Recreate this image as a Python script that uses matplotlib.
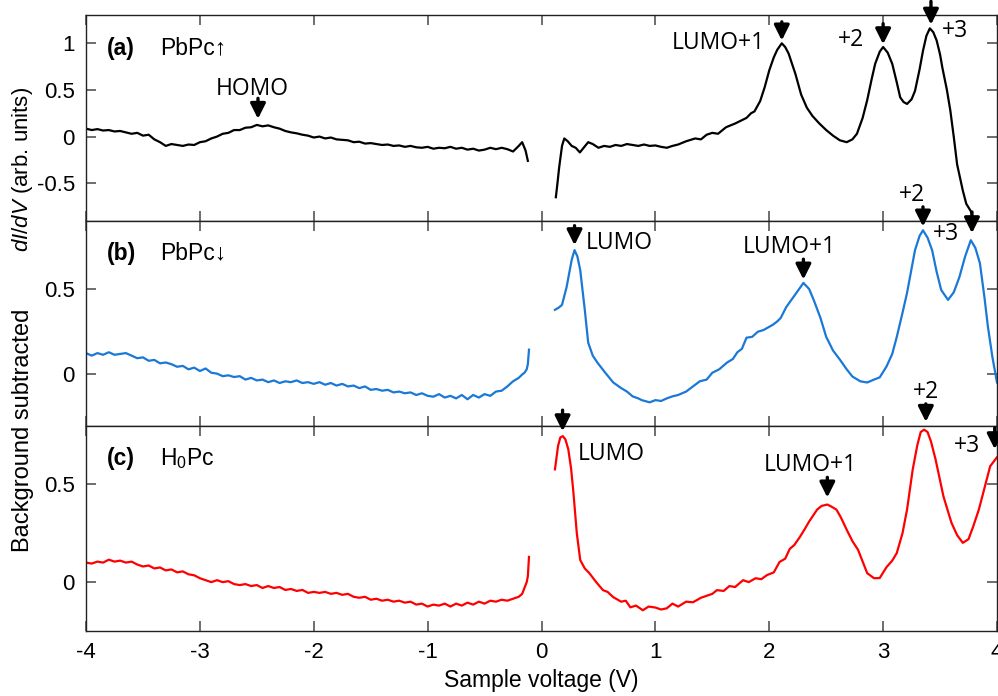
import matplotlib.pyplot as plt
import numpy as np

plt.rcParams["font.family"] = ["Liberation Sans", "DejaVu Sans"]
plt.rcParams["mathtext.fontset"] = "custom"
plt.rcParams["mathtext.it"] = "Liberation Sans:italic"
plt.rcParams["mathtext.rm"] = "Liberation Sans"

# negative bias branches are sampled every 50 mV from -4.0 V to -0.2 V, then the last few points near 0
a_neg_y = [0.085, 0.07, 0.08, 0.065, 0.07, 0.055, 0.06, 0.045, 0.03, 0.04, 0.01, 0.02, -0.03,
           -0.06, -0.1, -0.08, -0.09, -0.1, -0.085, -0.09, -0.06, -0.05, -0.02, 0.0, 0.03, 0.04,
           0.07, 0.07, 0.095, 0.1, 0.125, 0.11, 0.12, 0.1, 0.085, 0.06, 0.045, 0.035, 0.02, 0.01,
           -0.01, 0.0, -0.02, -0.01, -0.03, -0.035, -0.04, -0.06, -0.055, -0.075, -0.07, -0.08,
           -0.09, -0.085, -0.1, -0.095, -0.11, -0.1, -0.115, -0.12, -0.11, -0.13, -0.12, -0.125,
           -0.11, -0.13, -0.12, -0.14, -0.13, -0.15, -0.14, -0.12, -0.135, -0.12, -0.135, -0.16, -0.1]
a_tail_v = [-0.17, -0.14, -0.12]
a_tail_y = [-0.06, -0.15, -0.26]
a_pos_v = [0.126, 0.14, 0.155, 0.18, 0.2, 0.23, 0.265, 0.3, 0.337, 0.37, 0.41, 0.45, 0.5, 0.55,
           0.6, 0.65, 0.7, 0.75, 0.8, 0.85, 0.9, 0.95, 1.0, 1.05, 1.1, 1.15, 1.2, 1.27, 1.35, 1.4,
           1.45, 1.5, 1.55, 1.6, 1.62, 1.66, 1.7, 1.75, 1.8, 1.84, 1.87, 1.92,
           1.96, 2.0, 2.04, 2.07, 2.11, 2.14, 2.17, 2.2, 2.23, 2.28, 2.33, 2.38, 2.44, 2.5, 2.56,
           2.62, 2.68, 2.73, 2.77, 2.82, 2.86, 2.9, 2.93, 2.97, 3.0, 3.04, 3.08, 3.12, 3.15, 3.18,
           3.21, 3.25, 3.28, 3.32, 3.35, 3.38, 3.41, 3.44, 3.47, 3.5, 3.52, 3.56, 3.59, 3.62, 3.65,
           3.7, 3.73, 3.77, 3.82, 3.9]
a_pos_y = [-0.65, -0.5, -0.33, -0.1, -0.02, -0.05, -0.1, -0.12, -0.17, -0.12, -0.06, -0.08, -0.12, -0.1,
           -0.11, -0.09, -0.1, -0.08, -0.09, -0.1, -0.085, -0.1, -0.095, -0.11, -0.12, -0.1, -0.085,
           -0.05, -0.02, -0.03, 0.02, 0.04, 0.03, 0.08, 0.1, 0.12, 0.14, 0.17, 0.2, 0.25, 0.27, 0.38,
           0.53, 0.71, 0.85, 0.93, 1.0, 0.96, 0.89, 0.78, 0.67, 0.45, 0.31, 0.22, 0.14, 0.07, 0.01,
           -0.04, -0.06, -0.03, 0.03, 0.2, 0.39, 0.62, 0.78, 0.91, 0.96, 0.9, 0.78, 0.58, 0.42, 0.37,
           0.35, 0.4, 0.49, 0.72, 0.92, 1.08, 1.16, 1.12, 1.03, 0.88, 0.74, 0.5, 0.28, 0.0, -0.3,
           -0.58, -0.72, -0.8, -1.0, -1.2]

b_neg_y = [0.125, 0.11, 0.125, 0.115, 0.13, 0.115, 0.12, 0.125, 0.11, 0.095, 0.1, 0.08, 0.085,
           0.065, 0.07, 0.06, 0.045, 0.05, 0.03, 0.04, 0.02, 0.035, 0.01, 0.005, -0.01, -0.005,
           -0.015, -0.01, -0.03, -0.02, -0.035, -0.03, -0.045, -0.035, -0.05, -0.04, -0.045,
           -0.035, -0.05, -0.045, -0.055, -0.045, -0.06, -0.05, -0.065, -0.055, -0.07, -0.065,
           -0.08, -0.07, -0.09, -0.085, -0.095, -0.09, -0.105, -0.1, -0.11, -0.105, -0.12, -0.11,
           -0.125, -0.13, -0.115, -0.135, -0.125, -0.14, -0.12, -0.145, -0.12, -0.135, -0.115,
           -0.125, -0.1, -0.095, -0.07, -0.04, -0.02]
b_tail_v = [-0.17, -0.15, -0.13, -0.12, -0.11]
b_tail_y = [0.0, 0.01, 0.03, 0.06, 0.145]
b_pos_v = [0.118, 0.15, 0.18, 0.22, 0.265, 0.29, 0.315, 0.34, 0.38, 0.41, 0.45, 0.49, 0.56, 0.63,
           0.7, 0.75, 0.8, 0.85, 0.88, 0.95, 1.0, 1.05, 1.1, 1.15, 1.2, 1.27, 1.33, 1.39, 1.45,
           1.5, 1.56, 1.63, 1.68, 1.72, 1.76, 1.8, 1.85, 1.9, 1.95, 2.03, 2.07, 2.1,
           2.15, 2.22, 2.3, 2.35, 2.39, 2.45, 2.5, 2.56, 2.62, 2.68, 2.73, 2.8, 2.86, 2.92, 2.97,
           3.03, 3.08, 3.12, 3.17, 3.21, 3.25, 3.28, 3.32, 3.35, 3.39, 3.43, 3.47, 3.51, 3.57,
           3.62, 3.67, 3.72, 3.77, 3.81, 3.85, 3.89, 3.92, 3.96, 4.0]
b_pos_y = [0.378, 0.39, 0.407, 0.51, 0.67, 0.727, 0.69, 0.61, 0.378, 0.186, 0.11, 0.07, 0.01, -0.047,
           -0.08, -0.1, -0.128, -0.14, -0.15, -0.163, -0.15, -0.155, -0.14, -0.128, -0.12, -0.1,
           -0.07, -0.04, -0.03, 0.01, 0.03, 0.07, 0.09, 0.13, 0.15, 0.215, 0.22, 0.25, 0.26, 0.29,
           0.31, 0.33, 0.395, 0.46, 0.535, 0.5, 0.436, 0.33, 0.22, 0.14, 0.087, 0.03, -0.012, -0.04,
           -0.047, -0.03, -0.017, 0.047, 0.12, 0.22, 0.36, 0.477, 0.62, 0.727, 0.81, 0.843, 0.8,
           0.727, 0.6, 0.494, 0.436, 0.48, 0.57, 0.69, 0.785, 0.74, 0.65, 0.45, 0.28, 0.1, -0.047]

c_neg_y = [0.1, 0.095, 0.105, 0.1, 0.115, 0.105, 0.11, 0.1, 0.105, 0.09, 0.08, 0.085, 0.07,
           0.075, 0.06, 0.065, 0.05, 0.055, 0.04, 0.035, 0.02, 0.01, 0.0, 0.01, 0.0, 0.005, -0.01,
           -0.015, -0.01, -0.02, -0.015, -0.03, -0.02, -0.03, -0.025, -0.04, -0.035, -0.045,
           -0.04, -0.055, -0.05, -0.055, -0.05, -0.06, -0.055, -0.065, -0.06, -0.075, -0.08,
           -0.075, -0.09, -0.085, -0.095, -0.09, -0.1, -0.095, -0.105, -0.1, -0.115, -0.11,
           -0.125, -0.115, -0.12, -0.11, -0.125, -0.11, -0.12, -0.105, -0.115, -0.1, -0.11,
           -0.095, -0.1, -0.09, -0.095, -0.085, -0.075]
c_tail_v = [-0.17, -0.15, -0.13, -0.12, -0.11]
c_tail_y = [-0.06, -0.03, 0.0, 0.03, 0.129]
c_pos_v = [0.118, 0.145, 0.165, 0.187, 0.21, 0.235, 0.26, 0.28, 0.31, 0.34, 0.38, 0.42, 0.48, 0.54,
           0.58, 0.63, 0.7, 0.74, 0.78, 0.83, 0.89, 0.94, 1.0, 1.05, 1.1, 1.15, 1.2, 1.27, 1.33,
           1.4, 1.45, 1.5, 1.54, 1.6, 1.65, 1.7, 1.77, 1.82, 1.88, 1.93, 1.98, 2.04, 2.09,
           2.14, 2.18, 2.22, 2.27, 2.31, 2.35, 2.42, 2.46, 2.51, 2.55, 2.59, 2.63, 2.68, 2.73,
           2.78, 2.86, 2.92, 2.97, 3.03, 3.08, 3.12, 3.17, 3.21, 3.26, 3.3, 3.33, 3.36, 3.39,
           3.42, 3.46, 3.53, 3.6, 3.65, 3.7, 3.75, 3.79, 3.84, 3.88, 3.94, 4.0]
c_pos_y = [0.577, 0.696, 0.74, 0.747, 0.73, 0.68, 0.58, 0.459, 0.25, 0.113, 0.07, 0.046, 0.0, -0.041,
           -0.05, -0.077, -0.1, -0.095, -0.129, -0.12, -0.144, -0.125, -0.13, -0.14, -0.134, -0.11,
           -0.125, -0.1, -0.103, -0.08, -0.07, -0.06, -0.041, -0.045, -0.02, -0.025, 0.01, 0.0, 0.02,
           0.015, 0.036, 0.05, 0.103, 0.12, 0.17, 0.19, 0.232, 0.27, 0.31, 0.371, 0.39, 0.397, 0.385,
           0.371, 0.33, 0.268, 0.21, 0.165, 0.046, 0.02, 0.021, 0.077, 0.11, 0.149, 0.25, 0.371,
           0.577, 0.7, 0.768, 0.78, 0.768, 0.72, 0.629, 0.438, 0.304, 0.24, 0.201, 0.22, 0.283,
           0.37, 0.459, 0.593, 0.639]

# peak markers: (label, label x, label y, label alignment, arrow x, arrow tail y, arrow tip y)
a_marks = [("HOMO", -2.54, 0.51, "center", -2.49, 0.41, 0.19),
           ("LUMO+1", 1.96, 1.0, "right", 2.11, 1.23, 1.03),
           ("+2", 2.72, 1.03, "center", 3.0, 1.21, 0.99),
           ("+3", 3.63, 1.135, "center", 3.42, 1.45, 1.2)]
b_marks = [("LUMO", 0.39, 0.767, "left", 0.29, 0.87, 0.756),
           ("LUMO+1", 2.18, 0.744, "center", 2.30, 0.674, 0.555),
           ("+2", 3.25, 1.047, "center", 3.35, 0.98, 0.865),
           ("+3", 3.55, 0.82, "center", 3.78, 0.95, 0.826)]
c_marks = [("LUMO", 0.32, 0.655, "left", 0.185, 0.88, 0.772),
           ("LUMO+1", 2.36, 0.598, "center", 2.51, 0.536, 0.433),
           ("+2", 3.38, 0.974, "center", 3.375, 0.912, 0.82),
           ("+3", 3.74, 0.696, "center", 3.98, 0.79, 0.68)]

panels = [
    ("(a)", "PbPc\u2191", a_neg_y, a_tail_v, a_tail_y, a_pos_v, a_pos_y, "black",
     (-0.9, 1.3), [-0.5, 0, 0.5, 1], a_marks),
    ("(b)", "PbPc\u2193", b_neg_y, b_tail_v, b_tail_y, b_pos_v, b_pos_y, "#1a78d6",
     (-0.3, 0.9), [0, 0.5], b_marks),
    ("(c)", "H$_\\mathregular{0}$Pc", c_neg_y, c_tail_v, c_tail_y, c_pos_v, c_pos_y, "#ff0000",
     (-0.25, 0.8), [0, 0.5], c_marks),
]

fig, axes = plt.subplots(3, 1, figsize=(9.98, 6.96), dpi=100, sharex=True)
fig.subplots_adjust(left=0.0862, right=0.999, top=0.978, bottom=0.0934, hspace=0)

for ax, (tag, name, yn, tv, ty, xp, yp, col, ylim, yt, marks) in zip(axes, panels):
    xn = np.linspace(-4.0, -0.2, len(yn))
    ax.plot(np.concatenate([xn, tv]), np.concatenate([yn, ty]), color=col, lw=1.6)
    ax.plot(xp, yp, color=col, lw=1.6)
    ax.set_xlim(-4, 4)
    ax.set_ylim(*ylim)
    ax.set_yticks(yt)
    ax.set_yticklabels([f"{t:g}" for t in yt])
    ax.tick_params(direction="in", length=7, width=1.2, color="#555555", labelsize=16,
                   top=True, right=True, pad=8)
    for s in ax.spines.values():
        s.set_color("#222222")
        s.set_linewidth(1.0)
    ax.text(0.023, 0.84, tag, transform=ax.transAxes, fontsize=16.5, fontweight="bold", va="center")
    ax.text(0.081, 0.84, name, transform=ax.transAxes, fontsize=16.5, va="center")
    for lab, lx, ly, ha, ax_x, tail, tip in marks:
        ax.text(lx, ly, lab, ha=ha, va="center", fontsize=16.5, family=["Open Sans", "DejaVu Sans"],
                clip_on=False)
        ax.annotate("", xy=(ax_x, tip), xytext=(ax_x, tail), annotation_clip=False,
                    arrowprops=dict(arrowstyle="-|>,head_length=0.7,head_width=0.35",
                                    mutation_scale=13, lw=2.4, color="black",
                                    shrinkA=0, shrinkB=0), zorder=5)

axes[-1].set_xticks(np.arange(-4, 5, 1))
axes[-1].set_xticklabels([f"{t:d}" for t in range(-4, 5)])
axes[-1].set_xlabel("Sample voltage (V)", fontsize=16.5, labelpad=4)

fig.text(0.023, 0.382, "Background subtracted", rotation=90, ha="center", va="center", fontsize=17)
fig.text(0.023, 0.757, "$dI/dV$ (arb. units)", rotation=90, ha="center", va="center", fontsize=16)

fig.savefig("out.png", dpi=100)
